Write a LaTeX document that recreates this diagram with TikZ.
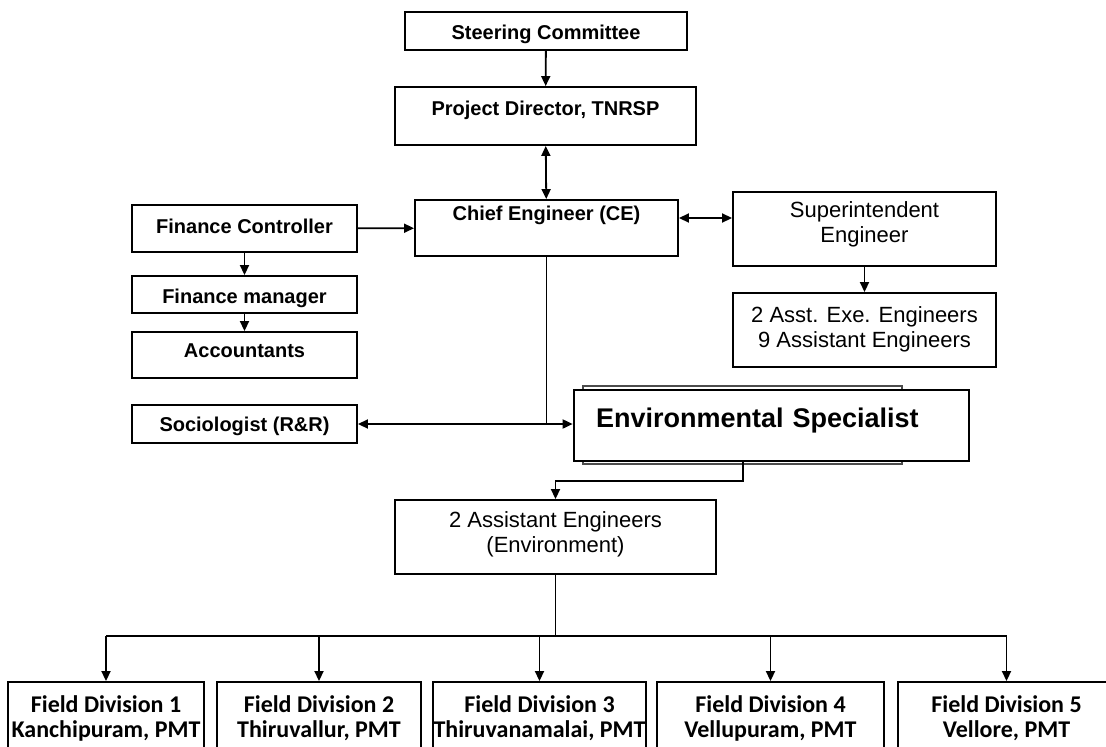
\documentclass[tikz,border=0pt]{standalone}
\usepackage{fontspec}
\setmainfont{Liberation Sans}
\newfontfamily\calibri{Carlito}
\usetikzlibrary{arrows.meta}
\tikzstyle{box}=[draw, line width=1.9pt, fill=white, inner sep=0pt]
\tikzstyle{heavy}=[font=\bfseries\fontsize{20}{24}\selectfont]
\tikzstyle{light}=[font=\fontsize{22}{25}\selectfont, align=center]
\tikzstyle{field}=[font=\calibri\bfseries\fontsize{24}{25}\selectfont, align=center, text height=55pt, text depth=33pt]
\tikzstyle{arr}=[-{Triangle[length=10pt,width=9pt]}]
\tikzstyle{darr}=[{Triangle[length=10pt,width=9pt]}-{Triangle[length=10pt,width=9pt]}]

\begin{document}
\begin{tikzpicture}[x=1pt, y=-1pt, line width=1.8pt]
\clip (0,0) rectangle (1106,747);
% Head office
    \node[box, heavy, minimum width=282pt, text height=27pt, text depth=11pt] (sc) at (546,31) {Steering Committee};
    \node[box, heavy, minimum width=301pt, text height=28pt, text depth=30pt] (pd) at (545.5,116) {Project Director, TNRSP};
    \node[box, heavy, minimum width=263pt, text height=20pt, text depth=36pt] (ce) at (546.5,228) {Chief Engineer (CE)};
% Finance side
    \node[box, heavy, minimum width=225pt, text height=28pt, text depth=19pt] (fc) at (244.5,228.5) {Finance Controller};
    \node[box, heavy, minimum width=225pt, text height=27pt, text depth=10pt] (fm) at (244.5,294.5) {Finance manager};
    \node[box, heavy, minimum width=225pt, text height=25pt, text depth=21pt] (acc) at (244.5,355) {Accountants};
    \node[box, heavy, minimum width=225pt, text height=26pt, text depth=12pt] (soc) at (244.5,424) {Sociologist (R\&R)};
% Engineering side
    \node[box, light, minimum width=263pt, text height=50.5pt, text depth=23.5pt] (se) at (864.5,229) {Superintendent\\Engineer};
    \node[box, light, minimum width=263pt, text height=54pt, text depth=20pt] (asst) at (864.5,330) {2 Asst. Exe. Engineers\\9 Assistant Engineers};
% Environment cell
    \draw[line width=1.4pt, black!70] (583,386) rectangle (902,464);
    \node[box, line width=2.7pt, font=\bfseries\fontsize{27}{30}\selectfont, text width=351pt, inner xsep=22pt, align=left, text height=37pt, text depth=34pt] (env) at (771.5,425.5) {Environmental Specialist};
    \node[box, light, minimum width=321pt, text height=52pt, text depth=22pt] (ae) at (555.5,537) {2 Assistant Engineers\\(Environment)};
% Field divisions
    \node[box, field, minimum width=196pt] (fd1) at (106,726) {Field Division 1\\Kanchipuram, PMT};
    \node[box, field, minimum width=204pt] (fd2) at (319,726) {Field Division 2\\Thiruvallur, PMT};
    \node[box, field, minimum width=213pt] (fd3) at (539.5,726) {Field Division 3\\Thiruvanamalai, PMT};
    \node[box, field, minimum width=227pt] (fd4) at (770.5,726) {Field Division 4\\Vellupuram, PMT};
    \node[box, field, minimum width=217pt] (fd5) at (1006.5,726) {Field Division 5\\Vellore, PMT};
% Links
    \draw[arr] (sc) -- (pd);
    \draw[darr] (pd) -- (ce);
    \draw[arr] (fc) -- (ce);
    \draw[darr] ([yshift=10pt]ce.east) -- ([yshift=10pt]ce.east -| se.west);
    \draw[arr] (se) -- (asst);
    \draw[arr] (fc) -- (fm);
    \draw[arr] (fm) -- (acc);
    \coordinate (j) at (ce.south |- soc.east);
    \draw (ce.south) -- (j);
    \draw[arr] (j) -- (soc.east);
    \draw[arr] (j) -- (j -| env.west);
    \draw[arr] ([xshift=-28.5pt]env.south) -- ++(0,19) -| (ae.north);
    \coordinate (bus) at (ae.south |- 0,636);
    \draw (ae.south) -- (bus);
    \draw (bus -| fd1.north) -- (bus -| fd5.north);
    \foreach \i in {1,...,5}
        \draw[arr] (bus -| fd\i.north) -- (fd\i.north);
\end{tikzpicture}
\end{document}
